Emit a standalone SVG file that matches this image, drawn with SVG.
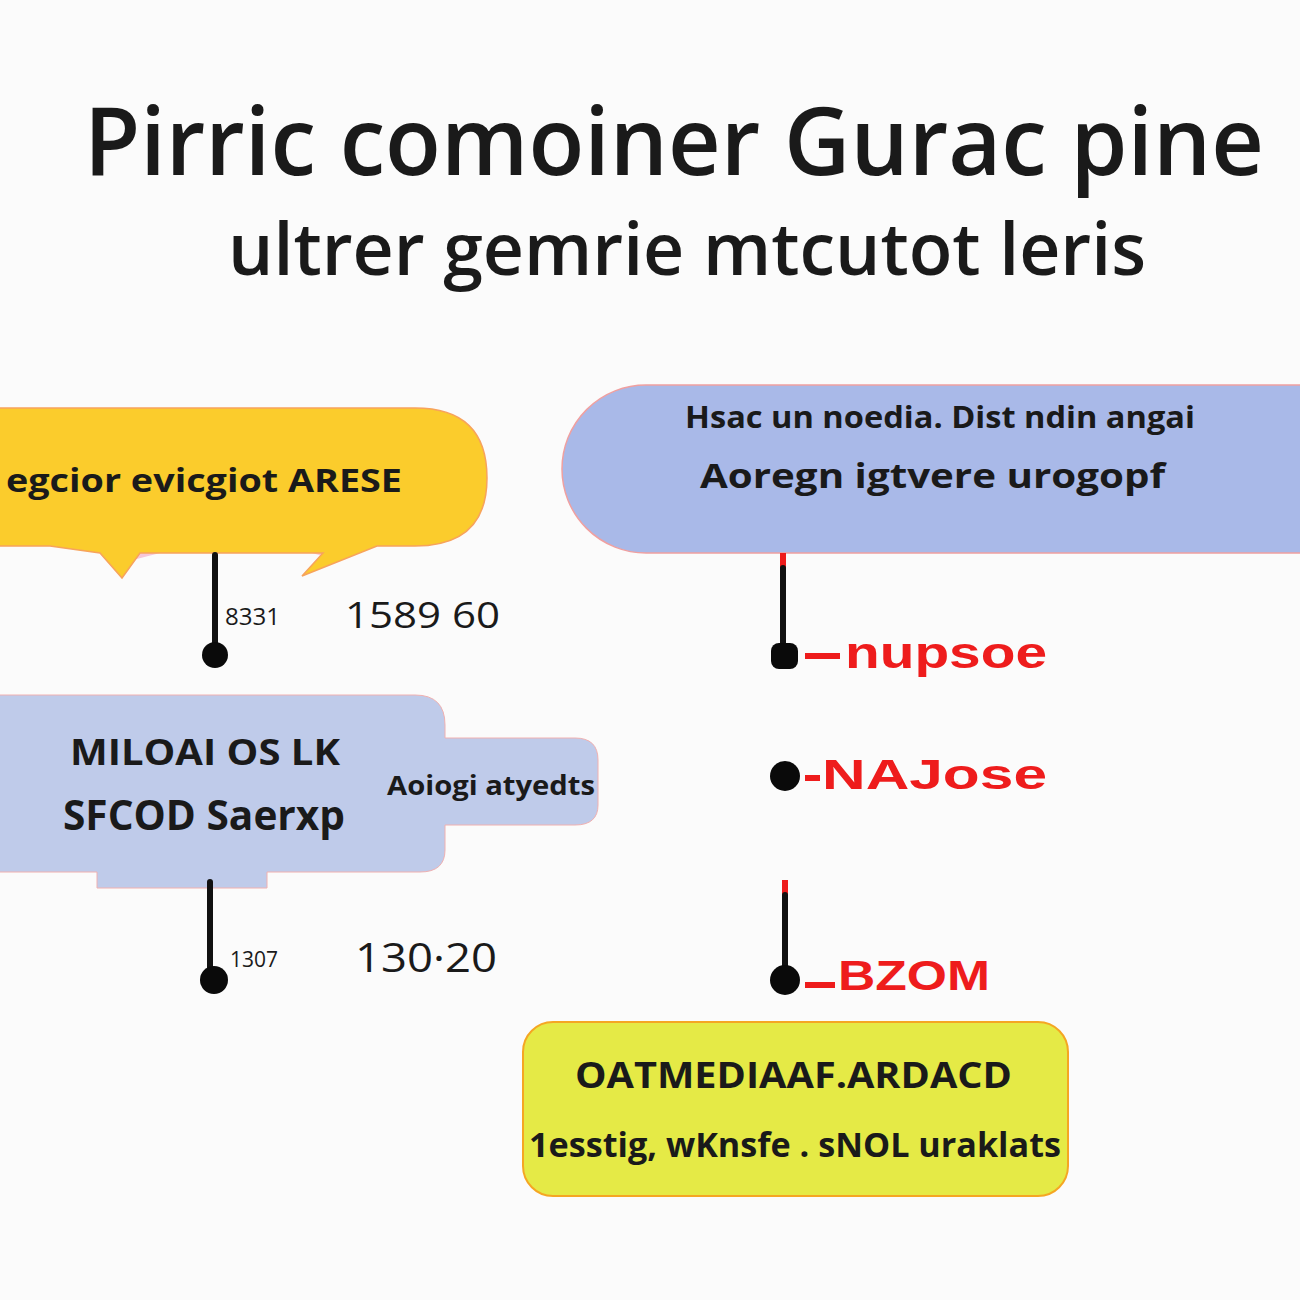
<svg xmlns="http://www.w3.org/2000/svg" width="1300" height="1300" viewBox="0 0 1300 1300">
<defs>
<style>
.t{font-family:"Open Sans","Liberation Sans",sans-serif;fill:#1a1a1a}
.b{font-weight:700}
.s{font-weight:600}
.r{font-family:"Liberation Sans","Open Sans",sans-serif;font-weight:700;fill:#ee1c1c}
.wire{stroke:#111;stroke-width:6;stroke-linecap:round;fill:none}
.red{stroke:#ee1c1c;stroke-width:6;fill:none}
.dot{fill:#0a0a0a}
</style>
</defs>
<rect width="1300" height="1300" fill="#fbfbfb"/>

<g id="title">
<text class="t s" x="84" y="175" font-size="94" textLength="1180" lengthAdjust="spacingAndGlyphs">Pirric comoiner Gurac pine</text>
<text class="t s" x="228" y="275" font-size="72" textLength="918" lengthAdjust="spacingAndGlyphs">ultrer gemrie mtcutot leris</text>
</g>

<g id="node-yellow">
<path d="M312,553 L340,561 L322,553 Z" fill="#f6c6d8"/>
<path d="M100,553 L125,562 L160,553 Z" fill="#f6c6d8"/>
<path d="M-10,408 L415,408 Q487,408 487,478 Q487,546 415,546 L377,546 L302,576 L323,553 L140,553 L122,578 L100,553 L50,546 L-10,546 Z" fill="#fbcc2c" stroke="#f7a35c" stroke-width="1.5"/>
<text class="t b" x="6" y="492" font-size="33" textLength="396" lengthAdjust="spacingAndGlyphs">egcior evicgiot ARESE</text>
</g>

<g id="node-blue-top">
<rect x="562" y="385" width="820" height="168" rx="84" fill="#a9b9e8" stroke="#f0a0a0" stroke-width="1.5"/>
<text class="t b" x="685" y="428" font-size="30" textLength="510" lengthAdjust="spacingAndGlyphs">Hsac un noedia. Dist ndin angai</text>
<text class="t b" x="700" y="488" font-size="34" textLength="465" lengthAdjust="spacingAndGlyphs">Aoregn igtvere urogopf</text>
</g>

<g id="node-blue-left">
<path d="M-10,695 L415,695 Q445,695 445,725 L445,738 L575,738 Q598,738 598,760 L598,805 Q598,825 575,825 L445,825 L445,850 Q445,872 420,872 L267,872 L267,888 L97,888 L97,872 L-10,872 Z" fill="#bfcbea" stroke="#f0b0b0" stroke-width="1"/>
<text class="t b" x="70" y="765" font-size="36" textLength="270" lengthAdjust="spacingAndGlyphs">MILOAI OS LK</text>
<text class="t b" x="63" y="830" font-size="42" textLength="282" lengthAdjust="spacingAndGlyphs">SFCOD Saerxp</text>
<text class="t b" x="387" y="795" font-size="26" textLength="208" lengthAdjust="spacingAndGlyphs">Aoiogi atyedts</text>
</g>

<g id="node-yellow-bottom">
<rect x="523" y="1022" width="545" height="174" rx="30" fill="#e5ea46" stroke="#f5a623" stroke-width="2"/>
<text class="t b" x="575" y="1088" font-size="36" textLength="437" lengthAdjust="spacingAndGlyphs">OATMEDIAAF.ARDACD</text>
<text class="t b" x="529" y="1157" font-size="34" textLength="532" lengthAdjust="spacingAndGlyphs">1esstig, wKnsfe . sNOL uraklats</text>
</g>

<g id="connectors">
<line class="wire" x1="215" y1="555" x2="215" y2="650"/>
<circle class="dot" cx="215" cy="655" r="13"/>
<line class="wire" x1="210" y1="882" x2="210" y2="975"/>
<circle class="dot" cx="214" cy="980" r="14"/>
<line class="red" x1="783" y1="553" x2="783" y2="568"/>
<line class="wire" x1="783" y1="568" x2="783" y2="650"/>
<rect class="dot" x="771" y="643" width="27" height="26" rx="8"/>
<line class="red" x1="805" y1="656" x2="840" y2="656"/>
<circle class="dot" cx="785" cy="776" r="15"/>
<line class="red" x1="805" y1="778" x2="820" y2="778"/>
<line class="red" x1="785" y1="880" x2="785" y2="895"/>
<line class="wire" x1="785" y1="895" x2="785" y2="975"/>
<circle class="dot" cx="785" cy="980" r="15"/>
<line class="red" x1="805" y1="985" x2="835" y2="985"/>
</g>

<g id="labels">
<text class="t" x="225" y="625" font-size="24" textLength="55" lengthAdjust="spacingAndGlyphs">8331</text>
<text class="t" x="345" y="628" font-size="36" textLength="155" lengthAdjust="spacingAndGlyphs">1589 60</text>
<text class="t" x="230" y="967" font-size="22" textLength="48" lengthAdjust="spacingAndGlyphs">1307</text>
<text class="t" x="355" y="972" font-size="40" textLength="142" lengthAdjust="spacingAndGlyphs">130·20</text>
<text class="r" x="845" y="668" font-size="44" textLength="202" lengthAdjust="spacingAndGlyphs">nupsoe</text>
<text class="r" x="822" y="789" font-size="42" textLength="225" lengthAdjust="spacingAndGlyphs">NAJose</text>
<text class="r" x="838" y="990" font-size="42" textLength="152" lengthAdjust="spacingAndGlyphs">BZOM</text>
</g>
</svg>
